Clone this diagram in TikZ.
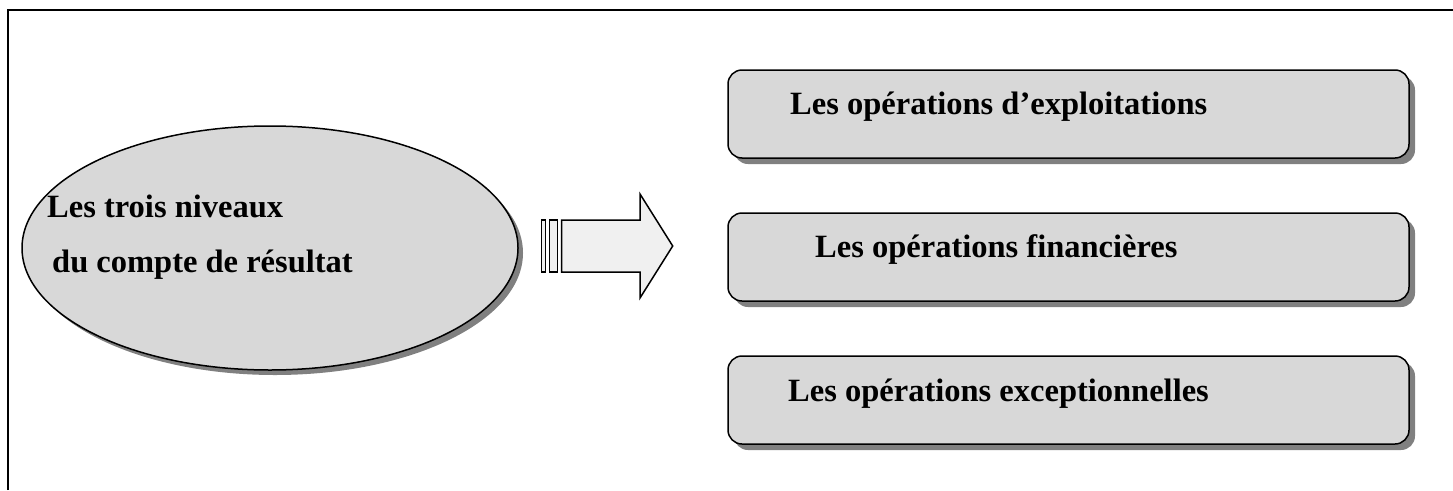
\documentclass[tikz,border=0pt]{standalone}
\usepackage{fontspec}
\setmainfont{Liberation Serif}
\usetikzlibrary{shapes.geometric,shadows}
\definecolor{boxfill}{HTML}{D8D8D8}
\definecolor{shadowgray}{HTML}{808080}
\definecolor{arrowfill}{HTML}{F0F0F0}
\begin{document}
\begin{tikzpicture}[x=1pt,y=-1pt,
  txt/.style={anchor=base west,inner sep=0pt,font=\fontsize{32.5}{38}\selectfont\bfseries},
  opbox/.style={draw=black,line width=1.5pt,fill=boxfill,rounded corners=14pt,
    minimum width=681pt,minimum height=88pt,inner sep=0pt,
    drop shadow={shadow xshift=6pt,shadow yshift=-6pt,fill=shadowgray,opacity=1}},
  oval/.style={ellipse,draw=black,line width=1.5pt,fill=boxfill,
    minimum width=496pt,minimum height=244pt,inner sep=0pt,
    drop shadow={shadow xshift=5pt,shadow yshift=-5pt,fill=shadowgray,opacity=1}},
  blockarrow/.style={draw=black,line width=1.5pt,fill=arrowfill,line join=miter}]
\useasboundingbox (0,0) rectangle (1453,490);
% frame
\draw[line width=2.5pt] (8,490) -- (8,10) -- (1453,10);
% ellipse
\node[oval] (niv) at (270,248) {};
\node[txt] (t1) at (47,217) {Les trois niveaux};
\node[txt] (t2) at (52,272) {du compte de r\'esultat};
% block arrow
\coordinate (a0) at (561.7,220);
\draw[blockarrow] (a0) -- (640,220) -- (640,194) -- (672.7,246) -- (640,298) -- (640,272) -- (561.7,272) -- cycle;
\draw[blockarrow] (549.3,220) rectangle (557.3,272);
\draw[blockarrow] (541.7,220) rectangle (545.7,272);
% boxes
\node[opbox] (b1) at (1068.5,114) {};
\node[opbox] (b2) at (1068.5,257) {};
\node[opbox] (b3) at (1068.5,400) {};
\node[txt] (l1) at (790,114) {Les op\'erations d’exploitations};
\node[txt] (l2) at (815,257) {Les op\'erations financi\`eres};
\node[txt] (l3) at (788,401) {Les op\'erations exceptionnelles};
\end{tikzpicture}
\end{document}
